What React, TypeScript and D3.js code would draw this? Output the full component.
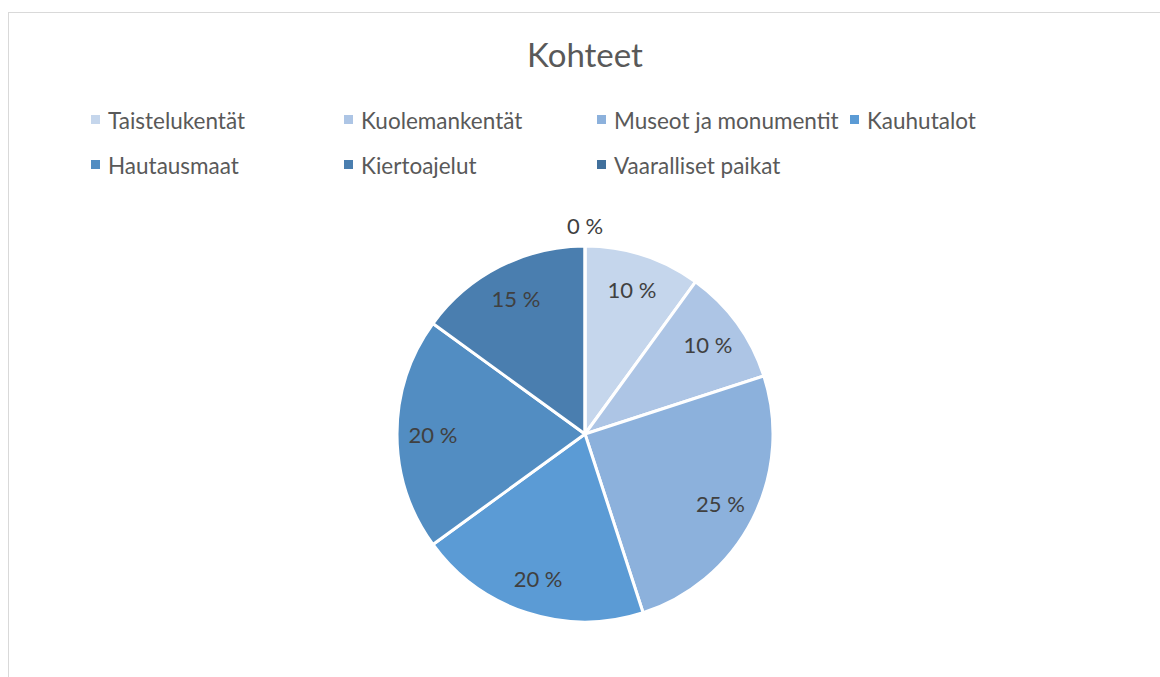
import React from "react";
import * as d3 from "d3";

const title = "Kohteet";
const categories = [
  "Taistelukentät",
  "Kuolemankentät",
  "Museot ja monumentit",
  "Kauhutalot",
  "Hautausmaat",
  "Kiertoajelut",
  "Vaaralliset paikat",
];
const values = [10, 10, 25, 20, 20, 15, 0];
const colors = ["#C5D6EC", "#ADC5E5", "#8CB1DC", "#5B9BD5", "#528DC2", "#4A7EAF", "#41709C"];

const W = 1160;
const H = 677;
const cx = 585;
const cy = 434;
const R = 188;
const FONT = "Lato, 'Open Sans', sans-serif";

export default function App() {
  const total = d3.sum(values);
  const pie = d3.pie<number>().sort(null).value((d) => d);
  const arcs = pie(values);
  const arcGen = d3.arc<d3.PieArcDatum<number>>().innerRadius(0).outerRadius(R);
  const labelArc = d3.arc<d3.PieArcDatum<number>>().innerRadius(152).outerRadius(152);

  const legendX = d3.scaleLinear().domain([0, 1]).range([91, 344]);
  const legendRows = [120, 165];

  return (
    <svg width={W} height={H} style={{ position: "absolute", left: 0, top: 0, background: "#fff" }}>
      <rect x={8.5} y={12.5} width={W} height={H} fill="#fff" stroke="#D9D9D9" strokeWidth={1} />
      <text x={cx} y={67} textAnchor="middle" fontFamily={FONT} fontSize={33} fill="#595959">
        {title}
      </text>
      {categories.map((c, i) => {
        const row = i < 4 ? 0 : 1;
        const col = i < 4 ? i : i - 4;
        const x = legendX(col);
        const y = legendRows[row];
        return (
          <g key={c}>
            <rect x={x} y={y - 5} width={9} height={9} fill={colors[i]} />
            <text x={x + 17} y={y} dominantBaseline="central" fontFamily={FONT} fontSize={22.5} fill="#595959">
              {c}
            </text>
          </g>
        );
      })}
      <g transform={`translate(${cx},${cy})`}>
        {arcs.map((a, i) => (
          <path key={i} d={arcGen(a) || ""} fill={colors[i]} stroke="#fff" strokeWidth={3} strokeLinejoin="round" />
        ))}
        {arcs.map((a, i) => {
          const pct = `${Math.round((values[i] / total) * 100)} %`;
          let [x, y] = labelArc.centroid(a);
          if (values[i] === 0) {
            const ang = a.startAngle;
            x = Math.sin(ang) * (R + 21);
            y = -Math.cos(ang) * (R + 21);
          }
          return (
            <text
              key={`l${i}`}
              x={x}
              y={y}
              textAnchor="middle"
              dominantBaseline="central"
              fontFamily={FONT}
              fontSize={22}
              fill="#404040"
            >
              {pct}
            </text>
          );
        })}
      </g>
    </svg>
  );
}
